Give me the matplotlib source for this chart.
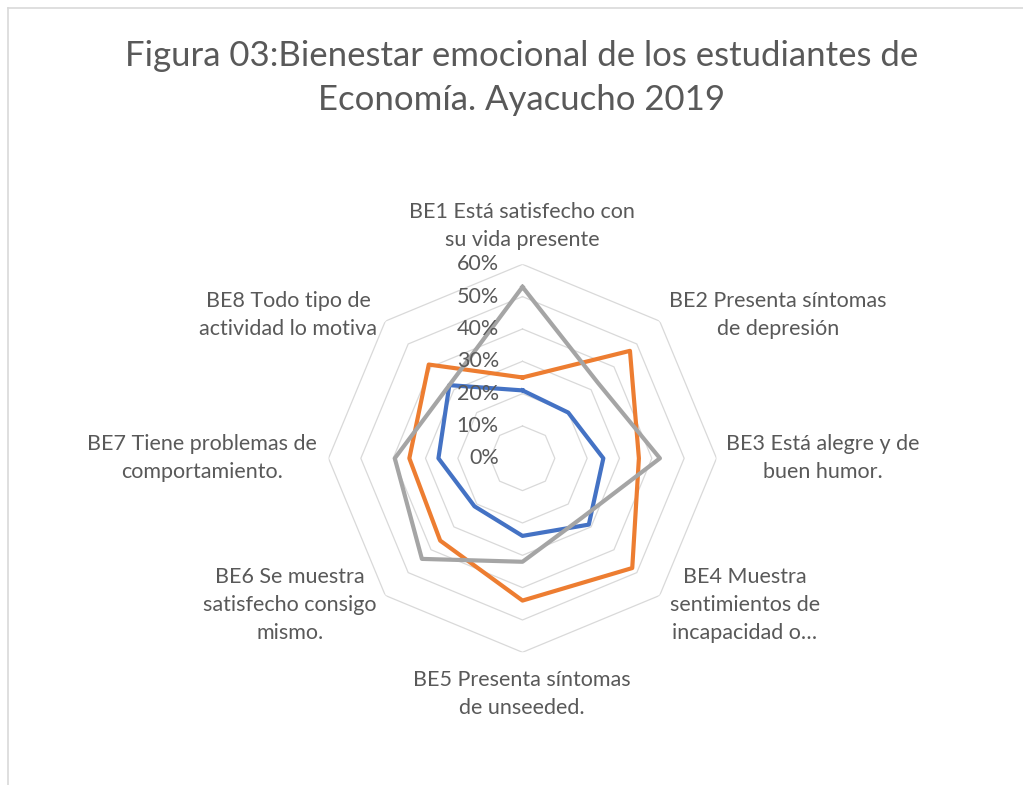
import numpy as np
import matplotlib
matplotlib.use("Agg")
import matplotlib.pyplot as plt
from matplotlib.lines import Line2D

plt.rcParams["font.family"] = ["Lato", "DejaVu Sans"]

# Data (fractions in %)
categories = [
    "BE1 Está satisfecho con\nsu vida presente",
    "BE2 Presenta síntomas\nde depresión",
    "BE3 Está alegre y de\nbuen humor.",
    "BE4 Muestra\nsentimientos de\nincapacidad o…",
    "BE5 Presenta síntomas\nde unseeded.",
    "BE6 Se muestra\nsatisfecho consigo\nmismo.",
    "BE7 Tiene problemas de\ncomportamiento.",
    "BE8 Todo tipo de\nactividad lo motiva",
]
serie_azul = [21, 20, 25, 29, 24, 21, 26, 32]
serie_naranja = [25, 47, 36, 48, 44, 36, 35, 41]
serie_gris = [53, 33, 42.5, 26, 32, 44, 39.5, 32]
ticks = [0, 10, 20, 30, 40, 50, 60]

# label positions in figure pixels (x, y from top)
label_pos = [(522, 226), (778, 315), (823, 458), (745, 605),
             (522, 694), (290, 605), (202, 458), (288, 315)]

W, H = 1023, 785
fig = plt.figure(figsize=(W / 100, H / 100), dpi=100)
fig.patch.set_facecolor("white")

# chart border (left and top visible)
fig.add_artist(Line2D([8 / W, 8 / W], [0, 1 - 8 / H], transform=fig.transFigure,
                      color="#d9d9d9", lw=1.2))
fig.add_artist(Line2D([8 / W, 1], [1 - 8 / H, 1 - 8 / H], transform=fig.transFigure,
                      color="#d9d9d9", lw=1.2))

cx, cy, R = 522.5, 458.3, 194
ax = fig.add_axes([(cx - R) / W, (H - cy - R) / H, 2 * R / W, 2 * R / H],
                  projection="polar")
ax.set_theta_offset(np.pi / 2)
ax.set_theta_direction(-1)
ax.set_ylim(0, 60)
ax.grid(False)
ax.spines["polar"].set_visible(False)
ax.set_xticks([])
ax.set_yticks([])
ax.patch.set_alpha(0)

n = len(categories)
ang = np.linspace(0, 2 * np.pi, n, endpoint=False)
ang_c = np.append(ang, ang[0])

# octagon grid
for t in ticks[1:]:
    ax.plot(ang_c, [t] * (n + 1), color="#d9d9d9", lw=0.9, zorder=1)

for vals, col in [(serie_azul, "#4472C4"), (serie_naranja, "#ED7D31"),
                  (serie_gris, "#A5A5A5")]:
    v = list(vals) + [vals[0]]
    ax.plot(ang_c, v, color=col, lw=3.0, solid_joinstyle="round", zorder=3)

for t in ticks:
    ax.annotate(f"{t}%", xy=(0, t), xytext=(-17, 0), textcoords="offset points",
                ha="right", va="center", fontsize=15.5, color="#595959",
                annotation_clip=False, zorder=4)

for lab, (x, y) in zip(categories, label_pos):
    fig.text(x / W, 1 - y / H, lab, ha="center", va="center", fontsize=15.5,
             color="#595959", linespacing=1.49)

fig.text(522 / W, 1 - 78 / H,
         "Figura 03:Bienestar emocional de los estudiantes de\nEconomía. Ayacucho 2019",
         ha="center", va="center", fontsize=25, color="#595959", linespacing=1.5)

fig.savefig("out.png", dpi=100)
